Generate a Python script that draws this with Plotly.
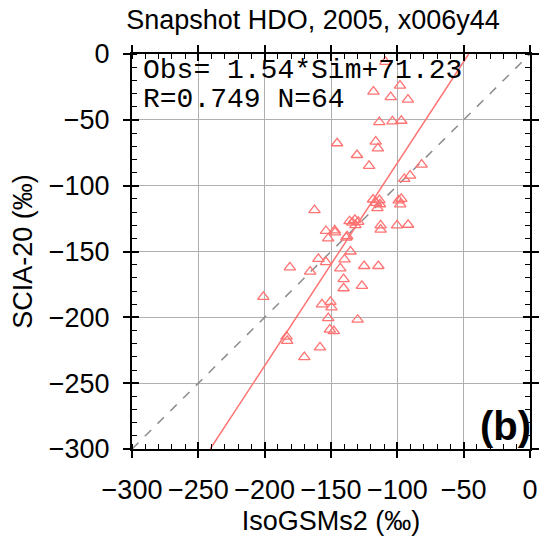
import plotly.graph_objects as go

# Simulated (IsoGSMs2) vs observed (SCIA-20) HDO deltas, per mil
sim = [-109, -118, -98, -105, -92, -113.6, -103.7, -97, -145.4, -116.3,
       -114.6, -130.4, -121.3, -81.7, -90.4, -94.8, -118.3, -113.1, -115, -99,
       -97.8, -136, -132, -129.5, -131.6, -112.6, -112.6, -100.2, -91.9, -147.2,
       -137.8, -135.3, -139.8, -125, -114.3, -162.4, -153.8, -152.1, -159.5, -153.8,
       -181, -165.7, -201, -156.8, -150.4, -149.6, -152.1, -150.9, -147.9, -183.5,
       -183, -158.3, -170.1, -143, -140.5, -140.5, -126.7, -129.9,
       -138.5, -116, -113.5, -134, -97, -147]
obs = [-6, -28.5, -24, -32.7, -34.7, -51.7, -51.2, -50.7, -67.8, -66.5,
       -71.7, -76.7, -85, -84, -92.4, -94.9, -110.5, -114.1, -117, -111.2,
       -114.2, -127, -126, -127.5, -130, -130.2, -133.4, -130.2, -129.7, -133.9,
       -138.4, -150, -156, -161, -161, -118.6, -134.4, -140.1, -155.6, -158.1,
       -162, -165.3, -184.5, -190.2, -188.2, -192.5, -200.6, -209.3, -210.5, -214.7,
       -217.9, -222.8, -230.2, -162.8, -171, -177.9, -176.1, -201.8,
       -139.5, -113, -111, -128, -110, -135.5]

# Linear fit reported on the panel
slope = 1.54
intercept = 71.23
r_value = 0.749
n_points = 64

axis_range = [-300, 0]
tick_vals = [-300, -250, -200, -150, -100, -50, 0]

red = "#ff7373"

fig = go.Figure()

# 1:1 reference line
fig.add_trace(go.Scatter(
    x=axis_range, y=axis_range, mode="lines",
    line=dict(color="#8c8c8c", width=1.5, dash="dash"),
    hoverinfo="skip", showlegend=False,
))

# regression line Obs = slope*Sim + intercept, clipped to the frame
x_lo = (axis_range[0] - intercept) / slope
x_hi = (axis_range[1] - intercept) / slope
fig.add_trace(go.Scatter(
    x=[x_lo, x_hi], y=[slope * x_lo + intercept, slope * x_hi + intercept],
    mode="lines", line=dict(color=red, width=1.5),
    hoverinfo="skip", showlegend=False,
))

fig.add_trace(go.Scatter(
    x=sim, y=obs, mode="markers",
    marker=dict(symbol="triangle-up-open", size=10, color=red,
                line=dict(width=1.3, color=red)),
    showlegend=False,
))

font_sans = "Liberation Sans, Arial, sans-serif"
common_axis = dict(
    range=axis_range, tickmode="array", tickvals=tick_vals,
    showgrid=True, gridcolor="#b0b0b0", gridwidth=1,
    zeroline=False, showline=True, linecolor="black", linewidth=2,
    mirror="allticks", ticks="outside", ticklen=7, tickwidth=1.5, tickcolor="black",
    minor=dict(ticks="inside", dtick=10, ticklen=5, tickwidth=1, tickcolor="black",
               showgrid=False),
    tickfont=dict(family=font_sans, size=27, color="black"),
)

fig.update_layout(
    width=551, height=543,
    margin=dict(l=132, r=14, t=54, b=84),
    paper_bgcolor="white", plot_bgcolor="white",
    title=dict(text="Snapshot HDO, 2005, x006y44", x=313 / 551, xanchor="center",
               y=1 - 20 / 543, yanchor="middle", yref="container",
               font=dict(family=font_sans, size=27, color="black")),
    xaxis=dict(**common_axis, ticklabelstandoff=9,
               title=dict(text="IsoGSMs2 (‰)", standoff=7,
                          font=dict(family=font_sans, size=27, color="black"))),
    yaxis=dict(**common_axis, ticklabelstandoff=8,
               title=dict(text="SCIA-20 (‰)", standoff=8,
                          font=dict(family=font_sans, size=27, color="black"))),
    # inner half of the crossing major ticks
    xaxis2=dict(range=axis_range, overlaying="x", tickmode="array", tickvals=tick_vals,
                ticks="inside", ticklen=7, tickwidth=1.5, tickcolor="black",
                mirror="allticks", showticklabels=False, showgrid=False,
                zeroline=False, showline=False),
    yaxis2=dict(range=axis_range, overlaying="y", tickmode="array", tickvals=tick_vals,
                ticks="inside", ticklen=7, tickwidth=1.5, tickcolor="black",
                mirror="allticks", showticklabels=False, showgrid=False,
                zeroline=False, showline=False),
)

# invisible trace to activate the overlay axes
fig.add_trace(go.Scatter(x=[None], y=[None], xaxis="x2", yaxis="y2",
                         showlegend=False, hoverinfo="skip"))

mono = "Liberation Mono, Courier New, monospace"
fig.add_annotation(
    text=f"Obs= {slope:.2f}*Sim+{intercept:.2f}", xref="paper", yref="paper",
    x=9 / 405, y=1 - 17 / 405, xanchor="left", yanchor="middle", showarrow=False,
    font=dict(family=mono, size=28, color="black"),
)
fig.add_annotation(
    text=f"R={r_value:.3f} N={n_points}", xref="paper", yref="paper",
    x=9 / 405, y=1 - 47 / 405, xanchor="left", yanchor="middle", showarrow=False,
    font=dict(family=mono, size=28, color="black"),
)
fig.add_annotation(
    text="<b>(b)</b>", xref="paper", yref="paper",
    x=1 + 3 / 405, y=24 / 405, xanchor="right", yanchor="middle", showarrow=False,
    font=dict(family=font_sans, size=40, color="black"),
)

fig.write_html("out.html")
